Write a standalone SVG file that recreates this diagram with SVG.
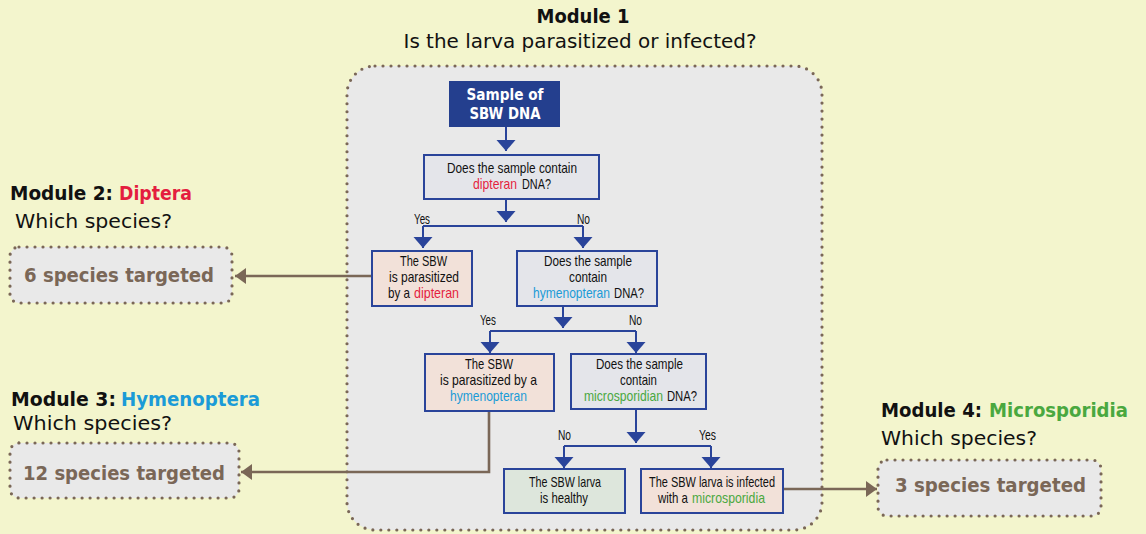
<svg xmlns="http://www.w3.org/2000/svg" width="1146" height="534" viewBox="0 0 1146 534">
<style>
.bg{fill:#f3f5cd}
.dot{fill:#e9e9e9;stroke:#7a6757;stroke-width:3.2;stroke-dasharray:0 8;stroke-linecap:round}
.q{fill:#e4e5ea;stroke:#2a449a;stroke-width:2}
.a{fill:#f2e1d9;stroke:#2a449a;stroke-width:2}
.h{fill:#dde6dc;stroke:#2a449a;stroke-width:2}
.bl{fill:none;stroke:#2a449a;stroke-width:2}
.br{fill:none;stroke:#7a6757;stroke-width:2.6}
.t{font-family:"Liberation Sans",Arial,sans-serif;font-size:14px;fill:#111}
.g{font-family:"DejaVu Sans","Liberation Sans",sans-serif;fill:#111}
.hd{font-weight:bold;font-size:19px}
.sub{font-size:19px}
.wh{font-family:"DejaVu Sans","Liberation Sans",sans-serif;font-weight:bold;font-size:15px;fill:#fff}
.sp{font-family:"DejaVu Sans","Liberation Sans",sans-serif;font-weight:bold;font-size:19px;fill:#7a6757}
.red{fill:#e41e3f}.blu{fill:#1b9bd7}.grn{fill:#4aa83f}
</style>
<defs>
<marker id="ab" markerUnits="userSpaceOnUse" markerWidth="14" markerHeight="20" refX="11" refY="0" orient="auto" viewBox="0 -10 14 20"><path d="M0,-9.5 L11,0 L0,9.5 z" fill="#2a449a"/></marker>
<marker id="am" markerUnits="userSpaceOnUse" markerWidth="14" markerHeight="18" refX="11" refY="0" orient="auto" viewBox="0 -9 14 18"><path d="M0,-8 L11,0 L0,8 z" fill="#7a6757"/></marker>
</defs>
<rect class="bg" x="0" y="0" width="1146" height="534"/>

<g id="module1-frame">
<rect class="dot" x="347" y="66" width="475" height="464" rx="28"/>
<text class="g hd" x="583" y="23" text-anchor="middle" textLength="93" lengthAdjust="spacingAndGlyphs">Module 1</text>
<text class="g sub" x="580" y="48" text-anchor="middle" textLength="353" lengthAdjust="spacingAndGlyphs">Is the larva parasitized or infected?</text>
</g>

<g id="connectors">
<path class="bl" d="M506,127 V151" marker-end="url(#ab)"/>
<path class="bl" d="M506,199 V222" marker-end="url(#ab)"/>
<path class="bl" d="M423,226 H583"/>
<path class="bl" d="M423,226 V248" marker-end="url(#ab)"/>
<path class="bl" d="M583,226 V248" marker-end="url(#ab)"/>
<path class="bl" d="M563,306 V328" marker-end="url(#ab)"/>
<path class="bl" d="M490,331 H636"/>
<path class="bl" d="M490,331 V353" marker-end="url(#ab)"/>
<path class="bl" d="M636,331 V353" marker-end="url(#ab)"/>
<path class="bl" d="M636,409 V443" marker-end="url(#ab)"/>
<path class="bl" d="M564,446 H711"/>
<path class="bl" d="M564,446 V468" marker-end="url(#ab)"/>
<path class="bl" d="M711,446 V468" marker-end="url(#ab)"/>
<g transform="scale(0.84 1)">
<text class="t" x="492.9" y="224" textLength="19" lengthAdjust="spacingAndGlyphs">Yes</text>
<text class="t" x="686.9" y="224" textLength="15.5" lengthAdjust="spacingAndGlyphs">No</text>
<text class="t" x="571.4" y="325" textLength="19" lengthAdjust="spacingAndGlyphs">Yes</text>
<text class="t" x="748.8" y="325" textLength="15.5" lengthAdjust="spacingAndGlyphs">No</text>
<text class="t" x="664.3" y="440" textLength="15.5" lengthAdjust="spacingAndGlyphs">No</text>
<text class="t" x="832.1" y="440" textLength="20.2" lengthAdjust="spacingAndGlyphs">Yes</text>
</g>
<path class="br" d="M372,276 H235" marker-end="url(#am)"/>
<path class="br" d="M489,411 V472 H241" marker-end="url(#am)"/>
<path class="br" d="M783,489 H877" marker-end="url(#am)"/>
</g>

<g id="sample">
<rect x="449" y="81" width="111" height="46" fill="#243f8e"/>
<text class="wh" x="505" y="100" text-anchor="middle" textLength="77" lengthAdjust="spacingAndGlyphs">Sample of</text>
<text class="wh" x="505" y="119" text-anchor="middle" textLength="71" lengthAdjust="spacingAndGlyphs">SBW DNA</text>
</g>

<g id="q-dipteran">
<rect class="q" x="424" y="155" width="175" height="44"/>
<g transform="scale(0.84 1)">
<text class="t" x="532.1" y="173" textLength="154.8" lengthAdjust="spacingAndGlyphs">Does the sample contain</text>
<text class="t red" x="563.1" y="189" textLength="52.4" lengthAdjust="spacingAndGlyphs">dipteran</text>
<text class="t" x="621.4" y="189" textLength="34.5" lengthAdjust="spacingAndGlyphs">DNA?</text>
</g>
</g>

<g id="a-dipteran">
<rect class="a" x="372" y="251" width="100" height="55"/>
<g transform="scale(0.84 1)">
<text class="t" x="476.2" y="266" textLength="56" lengthAdjust="spacingAndGlyphs">The SBW</text>
<text class="t" x="463.1" y="282" textLength="83.3" lengthAdjust="spacingAndGlyphs">is parasitized</text>
<text class="t" x="461.9" y="298" textLength="26.2" lengthAdjust="spacingAndGlyphs">by a</text>
<text class="t red" x="492.9" y="298" textLength="53.6" lengthAdjust="spacingAndGlyphs">dipteran</text>
</g>
</g>

<g id="q-hymenopteran">
<rect class="q" x="517" y="251" width="140" height="55"/>
<g transform="scale(0.84 1)">
<text class="t" x="647.6" y="266" textLength="104.8" lengthAdjust="spacingAndGlyphs">Does the sample</text>
<text class="t" x="677.4" y="282" textLength="45.2" lengthAdjust="spacingAndGlyphs">contain</text>
<text class="t blu" x="634.5" y="298" textLength="91.7" lengthAdjust="spacingAndGlyphs">hymenopteran</text>
<text class="t" x="731" y="298" textLength="35.7" lengthAdjust="spacingAndGlyphs">DNA?</text>
</g>
</g>

<g id="a-hymenopteran">
<rect class="a" x="425" y="354" width="129" height="57"/>
<g transform="scale(0.84 1)">
<text class="t" x="553.6" y="369" textLength="57.1" lengthAdjust="spacingAndGlyphs">The SBW</text>
<text class="t" x="523.8" y="385" textLength="115.5" lengthAdjust="spacingAndGlyphs">is parasitized by a</text>
<text class="t blu" x="535.7" y="401" textLength="91.7" lengthAdjust="spacingAndGlyphs">hymenopteran</text>
</g>
</g>

<g id="q-microsporidian">
<rect class="q" x="571" y="354" width="135" height="55"/>
<g transform="scale(0.84 1)">
<text class="t" x="709.5" y="369" textLength="103.6" lengthAdjust="spacingAndGlyphs">Does the sample</text>
<text class="t" x="738.1" y="385" textLength="44" lengthAdjust="spacingAndGlyphs">contain</text>
<text class="t grn" x="695.2" y="401" textLength="94" lengthAdjust="spacingAndGlyphs">microsporidian</text>
<text class="t" x="794" y="401" textLength="35.7" lengthAdjust="spacingAndGlyphs">DNA?</text>
</g>
</g>

<g id="healthy">
<rect class="h" x="504" y="469" width="121" height="44"/>
<g transform="scale(0.84 1)">
<text class="t" x="629.8" y="487" textLength="85.7" lengthAdjust="spacingAndGlyphs">The SBW larva</text>
<text class="t" x="642.9" y="503" textLength="57.1" lengthAdjust="spacingAndGlyphs">is healthy</text>
</g>
</g>

<g id="infected">
<rect class="a" x="641" y="469" width="142" height="44"/>
<g transform="scale(0.84 1)">
<text class="t" x="772.6" y="487" textLength="150" lengthAdjust="spacingAndGlyphs">The SBW larva is infected</text>
<text class="t" x="783.3" y="503" textLength="35.7" lengthAdjust="spacingAndGlyphs">with a</text>
<text class="t grn" x="823.8" y="503" textLength="86.9" lengthAdjust="spacingAndGlyphs">microsporidia</text>
</g>
</g>

<g id="module2">
<text class="g hd" x="10" y="200" textLength="103" lengthAdjust="spacingAndGlyphs">Module 2:</text>
<text class="g hd red" x="119" y="200" textLength="73" lengthAdjust="spacingAndGlyphs">Diptera</text>
<text class="g sub" x="15" y="228" textLength="157" lengthAdjust="spacingAndGlyphs">Which species?</text>
<rect class="dot" x="10" y="247" width="222" height="56" rx="9"/>
<text class="sp" x="24" y="282" textLength="190" lengthAdjust="spacingAndGlyphs">6 species targeted</text>
</g>

<g id="module3">
<text class="g hd" x="11" y="406" textLength="105" lengthAdjust="spacingAndGlyphs">Module 3:</text>
<text class="g hd blu" x="121" y="406" textLength="139" lengthAdjust="spacingAndGlyphs">Hymenoptera</text>
<text class="g sub" x="13" y="430" textLength="159" lengthAdjust="spacingAndGlyphs">Which species?</text>
<rect class="dot" x="10" y="443" width="229" height="55" rx="9"/>
<text class="sp" x="23" y="480" textLength="202" lengthAdjust="spacingAndGlyphs">12 species targeted</text>
</g>

<g id="module4">
<text class="g hd" x="881" y="417" textLength="101" lengthAdjust="spacingAndGlyphs">Module 4:</text>
<text class="g hd grn" x="989" y="417" textLength="139" lengthAdjust="spacingAndGlyphs">Microsporidia</text>
<text class="g sub" x="881" y="445" textLength="156" lengthAdjust="spacingAndGlyphs">Which species?</text>
<rect class="dot" x="878" y="460" width="223" height="56" rx="9"/>
<text class="sp" x="895" y="492" textLength="191" lengthAdjust="spacingAndGlyphs">3 species targeted</text>
</g>
</svg>
